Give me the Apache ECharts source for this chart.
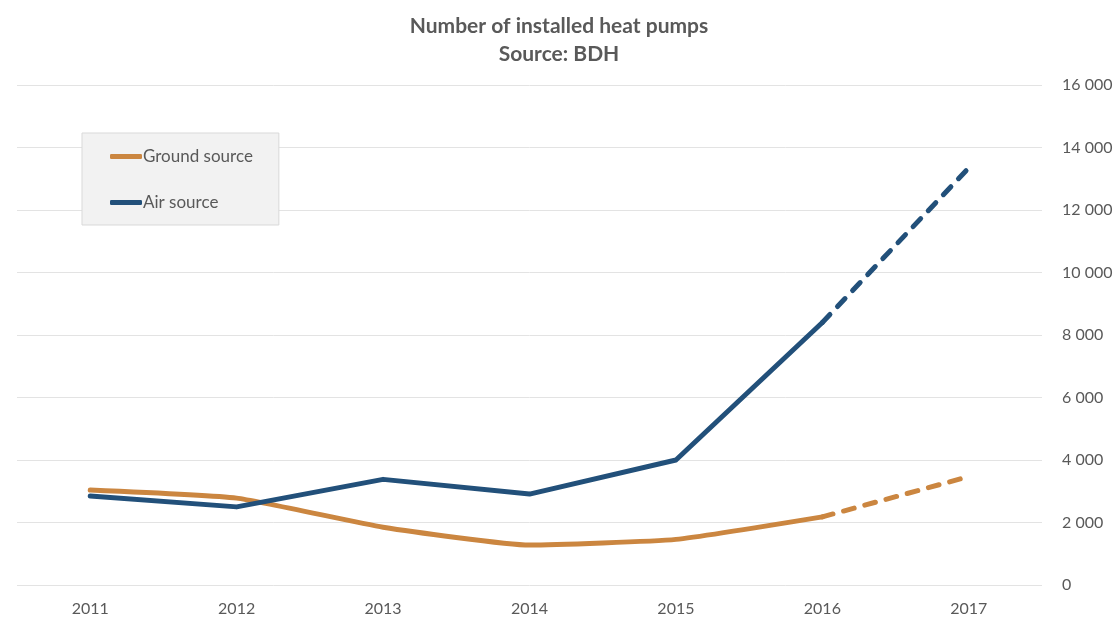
<!DOCTYPE html>
<html>
<head>
<meta charset="utf-8">
<script src="https://cdn.jsdelivr.net/npm/echarts@6/dist/echarts.min.js"></script>
<style>
  html, body { margin: 0; padding: 0; background: #fff; }
  #chart { width: 1118px; height: 621px; }
</style>
</head>
<body>
<div id="chart"></div>
<script>
// data
var years = ['2011', '2012', '2013', '2014', '2015', '2016', '2017']
var groundSource = [3040, 2780, 1850, 1280, 1460, 2180, 3470]
var airSource = [2850, 2500, 3380, 2910, 4000, 8400, 13350]
var lastActual = 5 // 2016: from here on the line is dashed

function solidPart (arr) {
  return arr.map(function (v, i) { return i <= lastActual ? v : null })
}
function dashedPart (arr) {
  return arr.map(function (v, i) { return i >= lastActual ? v : null })
}

var orange = '#CB8640'
var blue = '#22507A'
var grey = '#595959'
var font = 'Lato, "Open Sans", sans-serif'

var chart = echarts.init(document.getElementById('chart'))
chart.setOption({
  animation: false,
  textStyle: { fontFamily: font },
  title: {
    text: 'Number of installed heat pumps\nSource: BDH',
    left: 'center',
    top: 7,
    textStyle: { fontSize: 21, fontWeight: 'bold', color: grey, lineHeight: 28, fontFamily: font }
  },
  legend: {
    data: ['Ground source', 'Air source'],
    orient: 'vertical',
    left: 82,
    top: 133,
    padding: [15, 26, 14, 28],
    itemGap: 29,
    itemWidth: 32,
    itemHeight: 5,
    icon: 'roundRect',
    backgroundColor: '#F2F2F2',
    borderColor: '#D9D9D9',
    borderWidth: 1,
    borderRadius: 0,
    textStyle: { fontSize: 17, color: grey, fontFamily: font, padding: [0, 0, 0, -4] }
  },
  grid: { left: 17, right: 76, top: 85, bottom: 36 },
  xAxis: {
    type: 'category',
    data: years,
    boundaryGap: true,
    axisLine: { show: false },
    axisTick: { show: false },
    axisLabel: { color: grey, fontSize: 16, margin: 16 }
  },
  yAxis: {
    type: 'value',
    position: 'right',
    min: 0,
    max: 16000,
    interval: 2000,
    axisLine: { show: false },
    axisTick: { show: false },
    splitLine: { lineStyle: { color: '#E3E3E3', width: 1 } },
    axisLabel: {
      color: grey,
      fontSize: 16,
      margin: 20,
      formatter: function (v) {
        return String(v).replace(/\B(?=(\d{3})+(?!\d))/g, ' ')
      }
    }
  },
  series: [
    {
      name: 'Ground source',
      type: 'line',
      data: solidPart(groundSource),
      smooth: 0.15,
      symbol: 'none',
      itemStyle: { color: orange },
      lineStyle: { color: orange, width: 5, cap: 'round', join: 'round' },
      z: 2
    },
    {
      name: 'Air source',
      type: 'line',
      data: solidPart(airSource),
      smooth: false,
      symbol: 'none',
      itemStyle: { color: blue },
      lineStyle: { color: blue, width: 5, cap: 'round', join: 'round' },
      z: 3
    },
    {
      name: 'Ground source (forecast)',
      type: 'line',
      data: dashedPart(groundSource),
      symbol: 'none',
      itemStyle: { color: orange },
      lineStyle: { color: orange, width: 5, type: [11, 11], cap: 'round' }
    },
    {
      name: 'Air source (forecast)',
      type: 'line',
      data: dashedPart(airSource),
      symbol: 'none',
      itemStyle: { color: blue },
      lineStyle: { color: blue, width: 5, type: [11, 11], cap: 'round' }
    }
  ]
})
</script>
</body>
</html>
